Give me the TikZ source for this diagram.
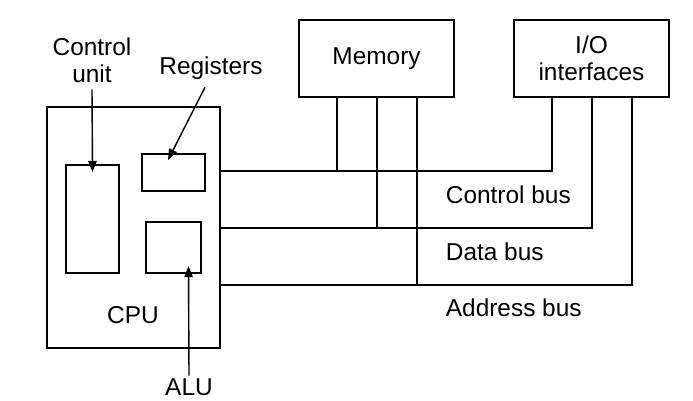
\documentclass[tikz,border=0pt]{standalone}
\usepackage{fontspec}
\setmainfont{Liberation Sans}
\usetikzlibrary{arrows.meta, calc, positioning}

\begin{document}
\begin{tikzpicture}[x=0.02cm, y=-0.02cm, line width=1.3pt,
  unit/.style={draw, inner sep=0pt},
  lbl/.style={font=\fontsize{13.9}{15.3}\selectfont, align=center, inner sep=1pt},
  ptr/.style={-{Triangle[length=0.22cm,width=0.17cm]}, line width=0.8pt}]
\useasboundingbox (0,0) rectangle (693,401);
% boxes
\node[unit, minimum width=3.46cm, minimum height=4.82cm] (cpu) at (133.5,227.5) {};
\node[unit, minimum width=1.06cm, minimum height=2.16cm] (ctrl) at (92.5,219) {};
\node[unit, minimum width=1.26cm, minimum height=0.74cm] (reg) at (173.5,172.5) {};
\node[unit, minimum width=1.10cm, minimum height=1.02cm] (alu) at (173.5,247.5) {};
\node[unit, lbl, minimum width=3.1cm, minimum height=1.54cm] (mem) at (376.5,58.5) {Memory};
\node[unit, lbl, minimum width=3.1cm, minimum height=1.54cm] (io) at (591.5,58.5) {I/O\\interfaces};
% labels
\node[lbl] (cpu-lbl) at (133,315) {CPU};
\node[lbl] (ctrl-lbl) at (92,60) {Control\\unit};
\node[lbl] (reg-lbl) at (211,68) {Registers};
\node[lbl] (alu-lbl) at (189,387) {ALU};
\draw[ptr] ($(ctrl-lbl.south)+(0,4)$) -- ($(ctrl.north)+(0,8)$);
\draw[ptr] ($(reg-lbl.south -| 205,0)+(0,5)$) -- (168,160);
\draw[ptr] (alu-lbl.north) -- ($(alu.south)+(15,-8)$);
% buses
\coordinate (cb) at (552,171);
\coordinate (db) at (592,228);
\coordinate (ab) at (632,285);
\draw (cpu.east |- cb) -- (cb) -- (cb |- io.south);
\draw (cpu.east |- db) -- (db) -- (db |- io.south);
\draw (cpu.east |- ab) -- (ab) -- (ab |- io.south);
\foreach \x/\b in {337/cb, 377/db, 417/ab}
  \draw (\x,0 |- \b) -- (\x,0 |- mem.south);
\node[lbl, anchor=west] (cb-lbl) at (443,195) {Control bus};
\node[lbl, anchor=west] (db-lbl) at (443,252) {Data bus};
\node[lbl, anchor=west] (ab-lbl) at (443,308) {Address bus};
\end{tikzpicture}
\end{document}
